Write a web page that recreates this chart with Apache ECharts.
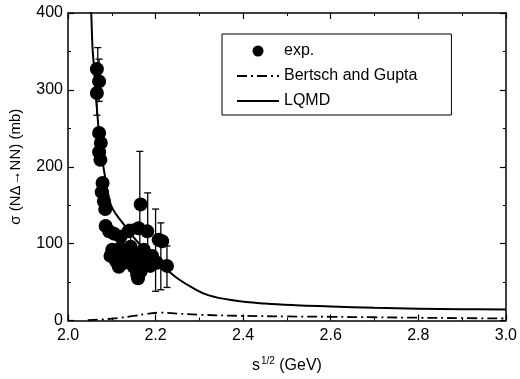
<!DOCTYPE html>
<html>
<head>
<meta charset="utf-8">
<script src="https://cdn.jsdelivr.net/npm/echarts@6/dist/echarts.min.js"></script>
<style>
  html, body { margin: 0; padding: 0; background: #fff; }
  #chart { width: 520px; height: 379px; }
</style>
</head>
<body>
<div id="chart"></div>
<script>
// Experimental points: [sqrt(s) in GeV, cross section in mb]
var expPoints = [
  [2.066, 327], [2.071, 311], [2.066, 296], [2.071, 244], [2.075, 231],
  [2.071, 219], [2.074, 209], [2.079, 179], [2.077, 167], [2.082, 155],
  [2.085, 145], [2.086, 123], [2.094, 116], [2.105, 113], [2.120, 109],
  [2.138, 116], [2.161, 120], [2.181, 116], [2.207, 105], [2.215, 103],
  [2.166, 151], [2.097, 84], [2.101, 92], [2.108, 88], [2.120, 94],
  [2.128, 90], [2.138, 83], [2.150, 86], [2.169, 79], [2.180, 83],
  [2.192, 84], [2.110, 77], [2.116, 70], [2.124, 74], [2.143, 96],
  [2.158, 75], [2.166, 64], [2.158, 60], [2.160, 55], [2.173, 92],
  [2.203, 75], [2.226, 71], [2.188, 71], [2.150, 70]
];

// Error bars: [sqrt(s), lower, upper]
var expErrors = [
  [2.068, 299, 355], [2.071, 285, 340], [2.066, 267, 325],
  [2.143, 95, 125], [2.164, 82, 220], [2.182, 66, 166],
  [2.200, 38, 145], [2.212, 40, 127], [2.226, 43, 97]
];

// LQMD parametrisation
var lqmdX = [2.050, 2.053, 2.056, 2.060, 2.064, 2.068, 2.072, 2.080, 2.090, 2.098,
             2.110, 2.130, 2.150, 2.175, 2.200, 2.234, 2.252, 2.280, 2.320, 2.380,
             2.450, 2.520, 2.600, 2.700, 2.800, 2.900, 3.000];
var lqmdY = [430, 400, 355, 325, 290, 262, 235, 203, 170, 150,
             138, 123, 108, 92, 78, 62, 54, 44, 33, 26,
             22, 19.8, 18.3, 16.5, 15.4, 14.7, 14.2];

// Bertsch and Gupta parametrisation
var bgX = [2.045, 2.080, 2.120, 2.150, 2.180, 2.210, 2.250, 2.300, 2.400, 2.500,
           2.600, 2.700, 2.800, 2.900, 3.000];
var bgY = [0.5, 1.5, 3.5, 6, 8.5, 10.2, 9, 7.5, 6, 5.3,
           4.8, 4.2, 3.6, 3.1, 2.6];

var xTicks = { min: 2.0, max: 3.0, interval: 0.2 };
var yTicks = { min: 0, max: 400, interval: 100 };

function zip(xs, ys) {
  return xs.map(function (x, i) { return [x, ys[i]]; });
}

var FONT = 'Liberation Sans, Arial, sans-serif';

var chart = echarts.init(document.getElementById('chart'), null, { renderer: 'canvas' });

var axisCommon = {
  axisLine: { show: true, onZero: false, lineStyle: { color: '#000', width: 1.5 } },
  axisTick: { show: true, inside: true, length: 6, lineStyle: { color: '#000', width: 1.2 } },
  minorTick: { show: true, splitNumber: 2, length: 3, lineStyle: { color: '#000', width: 1 } },
  splitLine: { show: false }
};

var option = {
  animation: false,
  backgroundColor: '#fff',
  grid: { left: 67, right: 12, top: 13, bottom: 58 },
  legend: {
    orient: 'vertical',
    left: 222,
    top: 34,
    padding: [9, 34, 6, 14],
    itemWidth: 42,
    itemHeight: 11,
    itemGap: 9,
    borderColor: '#000',
    borderWidth: 1,
    borderRadius: 0,
    textStyle: { color: '#000', fontFamily: FONT, fontSize: 16 },
    data: [
      { name: 'exp.', icon: 'circle', itemStyle: { color: '#000', opacity: 1 } },
      { name: 'Bertsch and Gupta', itemStyle: { opacity: 0 } },
      { name: 'LQMD', itemStyle: { opacity: 0 } }
    ]
  },
  xAxis: [
    Object.assign({
      type: 'value',
      min: xTicks.min, max: xTicks.max, interval: xTicks.interval,
      position: 'bottom',
      name: '{a|s}{b|1/2}{a| (GeV)}',
      nameLocation: 'middle',
      nameGap: 36,
      nameTextStyle: {
        rich: {
          a: { fontFamily: FONT, fontSize: 16, color: '#000' },
          b: { fontFamily: FONT, fontSize: 10, color: '#000', padding: [0, 0, 9, 1] }
        }
      },
      axisLabel: {
        color: '#000', fontFamily: FONT, fontSize: 16, margin: 7,
        formatter: function (v) { return v.toFixed(1); }
      }
    }, axisCommon),
    Object.assign({
      type: 'value',
      min: xTicks.min, max: xTicks.max, interval: xTicks.interval,
      position: 'top',
      axisLabel: { show: false }
    }, axisCommon)
  ],
  yAxis: [
    Object.assign({
      type: 'value',
      min: yTicks.min, max: yTicks.max, interval: yTicks.interval,
      position: 'left',
      name: 'σ (NΔ→NN) (mb)',
      nameLocation: 'middle',
      nameGap: 45,
      nameTextStyle: { color: '#000', fontFamily: FONT, fontSize: 15 },
      axisLabel: { color: '#000', fontFamily: FONT, fontSize: 16, margin: 5 }
    }, axisCommon),
    Object.assign({
      type: 'value',
      min: yTicks.min, max: yTicks.max, interval: yTicks.interval,
      position: 'right',
      axisLabel: { show: false }
    }, axisCommon)
  ],
  series: [
    {
      name: 'exp.',
      type: 'scatter',
      xAxisIndex: 0, yAxisIndex: 0,
      symbol: 'circle',
      symbolSize: 14,
      itemStyle: { color: '#000', opacity: 1 },
      data: expPoints,
      z: 4
    },
    {
      name: 'exp.',
      type: 'custom',
      xAxisIndex: 0, yAxisIndex: 0,
      data: expErrors,
      encode: { x: 0, y: [1, 2] },
      renderItem: function (params, api) {
        var lo = api.coord([api.value(0), api.value(1)]);
        var hi = api.coord([api.value(0), api.value(2)]);
        var half = 3.5;
        var st = { stroke: '#000', lineWidth: 1.3 };
        return {
          type: 'group',
          children: [
            { type: 'line', shape: { x1: lo[0], y1: lo[1], x2: hi[0], y2: hi[1] }, style: st },
            { type: 'line', shape: { x1: lo[0] - half, y1: lo[1], x2: lo[0] + half, y2: lo[1] }, style: st },
            { type: 'line', shape: { x1: hi[0] - half, y1: hi[1], x2: hi[0] + half, y2: hi[1] }, style: st }
          ]
        };
      },
      z: 3
    },
    {
      name: 'Bertsch and Gupta',
      type: 'line',
      xAxisIndex: 0, yAxisIndex: 0,
      smooth: 0.4,
      symbol: 'none',
      lineStyle: { color: '#000', width: 1.8, type: [10, 4, 2, 4] },
      itemStyle: { color: '#000' },
      data: zip(bgX, bgY),
      z: 2
    },
    {
      name: 'LQMD',
      type: 'line',
      xAxisIndex: 0, yAxisIndex: 0,
      smooth: 0.4,
      symbol: 'none',
      clip: true,
      lineStyle: { color: '#000', width: 2 },
      itemStyle: { color: '#000' },
      data: zip(lqmdX, lqmdY),
      z: 2
    }
  ]
};

chart.setOption(option);
</script>
</body>
</html>
